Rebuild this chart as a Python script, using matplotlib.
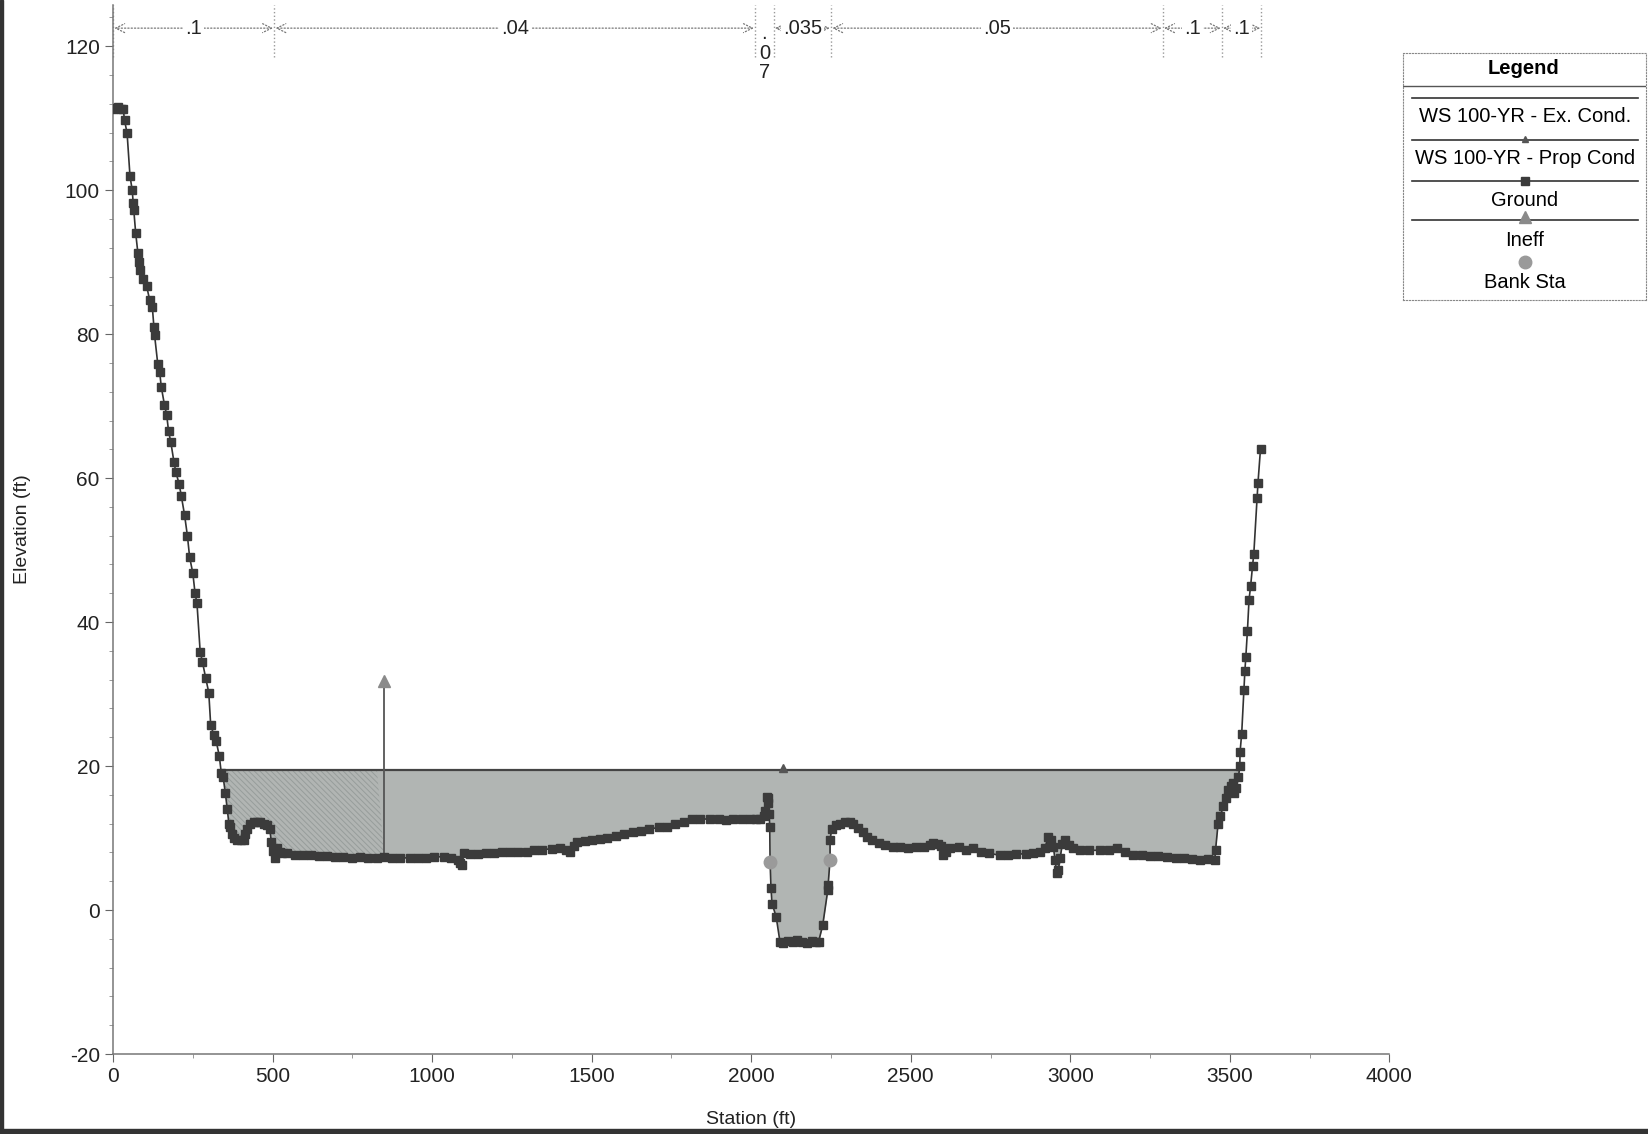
import numpy as np
import matplotlib
matplotlib.use("Agg")
import matplotlib.pyplot as plt
from matplotlib.patches import Rectangle

plt.rcParams['font.family'] = ['Liberation Sans', 'DejaVu Sans']
plt.rcParams['axes.unicode_minus'] = False
plt.rcParams['hatch.linewidth'] = 0.7

# ground profile (station ft, elevation ft)
ground_sta = [0, 8, 16, 24, 32, 36, 44, 53, 60, 63, 65, 71, 78, 82, 86, 95, 105, 115, 123, 128,
              130, 140, 146, 151, 161, 168, 174, 181, 191, 197, 207, 214, 224, 233, 240, 250, 257,
              263, 273, 280, 290, 300, 306, 316, 323, 333, 339, 345, 352, 358, 363, 368, 373, 378,
              390, 400, 410, 415, 420, 430, 441, 452, 462, 472, 482, 491, 496, 502, 509, 514, 522,
              530, 545, 570, 595, 619, 645, 670, 695, 722, 748, 775, 800, 827, 850, 875, 900, 932,
              955, 980, 1005, 1036, 1060, 1080, 1088, 1094, 1099, 1120, 1145, 1170, 1193, 1220,
              1245, 1270, 1297, 1320, 1345, 1375, 1401, 1420, 1433, 1445, 1454, 1480, 1500, 1527,
              1548, 1575, 1600, 1631, 1655, 1680, 1710, 1736, 1760, 1790, 1815, 1840, 1870, 1900,
              1920, 1944, 1970, 1995, 2015, 2028, 2040, 2044, 2049, 2053, 2054, 2056, 2058, 2059,
              2062, 2065, 2078, 2090, 2101, 2115, 2130, 2143, 2158, 2174, 2190, 2202, 2211, 2224,
              2240, 2241, 2247, 2247, 2252, 2265, 2278, 2295, 2310, 2320, 2335, 2350, 2362, 2380,
              2400, 2420, 2445, 2466, 2490, 2515, 2540, 2560, 2571, 2585, 2596, 2602, 2610, 2623,
              2650, 2672, 2696, 2720, 2745, 2779, 2805, 2830, 2860, 2884, 2905, 2920, 2931, 2940,
              2947, 2952, 2957, 2962, 2968, 2975, 2983, 2995, 3009, 3030, 3060, 3093, 3120, 3145,
              3170, 3197, 3225, 3250, 3275, 3302, 3330, 3355, 3380, 3406, 3430, 3453, 3455, 3463,
              3470, 3479, 3487, 3494, 3503, 3510, 3513, 3520, 3527, 3531, 3532, 3537, 3544, 3547,
              3550, 3555, 3560, 3565, 3571, 3575, 3585, 3588, 3596]
ground_el = [111.3, 111.4, 111.5, 111.3, 111.2, 109.7, 107.9, 102.0, 100.0, 98.2, 97.2, 94.0, 91.2,
             90.0, 88.9, 87.7, 86.7, 84.7, 83.8, 81.0, 79.9, 75.9, 74.8, 72.7, 70.2, 68.8, 66.5,
             65.0, 62.2, 60.8, 59.2, 57.5, 54.9, 52.0, 49.0, 46.8, 44.0, 42.6, 35.9, 34.5, 32.3,
             30.2, 25.7, 24.3, 23.5, 21.4, 19.1, 18.5, 16.2, 14.0, 12.0, 11.6, 10.6, 10.0, 9.8,
             9.8, 9.7, 10.5, 11.3, 12.0, 12.3, 12.2, 12.2, 12.0, 11.8, 11.3, 9.5, 8.2, 7.2, 8.6,
             8.1, 7.9, 7.9, 7.7, 7.6, 7.6, 7.5, 7.5, 7.4, 7.4, 7.3, 7.4, 7.3, 7.3, 7.4, 7.2, 7.3,
             7.2, 7.3, 7.2, 7.4, 7.4, 7.3, 7.0, 6.5, 6.3, 7.9, 7.8, 7.8, 7.9, 7.9, 8.0, 8.0, 8.1,
             8.1, 8.3, 8.4, 8.5, 8.6, 8.4, 8.1, 8.9, 9.5, 9.6, 9.8, 9.9, 10.0, 10.3, 10.6, 10.9,
             11.0, 11.2, 11.5, 11.6, 11.9, 12.3, 12.6, 12.7, 12.6, 12.6, 12.5, 12.6, 12.6, 12.7,
             12.6, 12.7, 13.0, 13.7, 15.7, 15.5, 14.9, 13.4, 11.6, 6.7, 3.0, 0.9, -0.9, -4.4, -4.6,
             -4.3, -4.5, -4.2, -4.4, -4.6, -4.3, -4.5, -4.4, -2.1, 2.8, 3.5, 7.0, 9.7, 11.3, 11.8,
             12.0, 12.3, 12.3, 12.0, 11.4, 10.8, 10.2, 9.7, 9.3, 9.1, 8.8, 8.8, 8.6, 8.7, 8.7, 9.0,
             9.3, 9.2, 8.9, 7.6, 8.0, 8.6, 8.8, 8.4, 8.6, 8.1, 7.9, 7.6, 7.7, 7.8, 7.8, 7.9, 8.0,
             8.6, 10.2, 9.8, 8.7, 7.0, 5.1, 5.5, 7.2, 9.2, 9.7, 9.0, 8.6, 8.4, 8.3, 8.3, 8.4, 8.6,
             8.0, 7.6, 7.6, 7.5, 7.5, 7.4, 7.3, 7.2, 7.1, 7.0, 7.1, 7.0, 8.3, 12.0, 13.0, 14.4,
             15.5, 16.7, 17.2, 17.6, 16.2, 17.0, 18.5, 20.0, 22.0, 24.5, 30.6, 33.2, 35.2, 38.8,
             43.1, 45.0, 47.8, 49.5, 57.2, 59.3, 64.1]

# water surface 100-yr
ws_elev = 19.5
ws_sta = [340, 2101, 3530]

# ineffective flow and bank stations
ineff_sta = 849
ineff_bottom = 7.4
ineff_top = 31.8
bank_sta = [2059, 2247]
bank_el = [6.7, 7.0]

# Manning's n
n_sta = [0, 505, 2012, 2070, 2250, 3290, 3475, 3599]
n_vals = ['.1', '.04', '.07', '.035', '.05', '.1', '.1']

st = np.array(ground_sta, dtype=float)
el = np.array(ground_el, dtype=float)

fig = plt.figure(figsize=(16.48, 11.34), dpi=100)
ax = fig.add_axes([0.0686, 0.0705, 0.7745, 0.925])

# flow area
wet = el < ws_elev
ax.fill_between(st, np.minimum(el, ws_elev), ws_elev, where=wet, interpolate=True,
                color='#b1b5b3', lw=0, zorder=1)
ax.fill_between(st, np.minimum(el, ws_elev), ws_elev, where=wet & (st <= ineff_sta),
                interpolate=True, facecolor='none', edgecolor='#979d9b', hatch='\\\\\\\\\\\\',
                lw=0, zorder=1.5)

# water surface lines
ax.plot([ws_sta[0], ws_sta[-1]], [ws_elev, ws_elev], color='#444444', lw=1.6, zorder=3)
ax.plot(ws_sta[1], ws_elev + 0.3, marker='^', ms=6, color='#555555', zorder=4)

# ineffective flow marker
ax.plot([ineff_sta, ineff_sta], [ineff_bottom, ineff_top], color='#555555', lw=1.3, zorder=3)
ax.plot(ineff_sta, ineff_top, marker='^', ms=9, color='#8a8a8a', zorder=4)

# ground
ax.plot(st, el, color='#333333', lw=1.2, marker='s', ms=6.2, mfc='#3b3b3b', mec='#3b3b3b',
        zorder=5)

# bank stations
ax.plot(bank_sta, bank_el, 'o', ms=9, color='#9a9a9a', zorder=6)

# Manning's n annotation
ny = 122.5
for s in n_sta:
    ax.plot([s, s], [118.5, 125.7], color='#999999', lw=1, ls=':', zorder=2, clip_on=False)
for i, lab in enumerate(n_vals):
    a, b = n_sta[i], n_sta[i + 1]
    if b - a < 100:
        ax.text((a + b) / 2, 123.1, '.\n0\n7', ha='center', va='top', fontsize=14.5,
                linespacing=1.05, color='#222222')
        continue
    ax.annotate('', xy=(a + 4, ny), xytext=(b - 4, ny),
                arrowprops=dict(arrowstyle='<->', color='#777777', lw=0.9, ls=':',
                                shrinkA=0, shrinkB=0, mutation_scale=16))
    ax.text((a + b) / 2, ny, lab, ha='center', va='center', fontsize=14.5, color='#222222',
            bbox=dict(facecolor='white', edgecolor='none', pad=1.5))

ax.set_xlim(0, 4000)
ax.set_ylim(-20, 125.7)
ax.set_xticks(np.arange(0, 4001, 500))
ax.set_xticks(np.arange(0, 4001, 250), minor=True)
ax.set_yticks(np.arange(-20, 121, 20))
ax.set_yticks(np.arange(-20, 125, 4), minor=True)
for side in ['top', 'right']:
    ax.spines[side].set_visible(False)
for side in ['left', 'bottom']:
    ax.spines[side].set_color('#777777')
    ax.spines[side].set_linewidth(1.1)
ax.tick_params(which='major', length=6, color='#666666', labelsize=15, labelcolor='#222222')
ax.tick_params(which='minor', length=3, color='#888888')
ax.set_xlabel('Station (ft)', fontsize=14, color='#222222', labelpad=18)
ax.set_ylabel('Elevation (ft)', fontsize=14, color='#222222', labelpad=24)

# legend box
lg = fig.add_axes([1403 / 1648, 1 - 300 / 1134, 243 / 1648, 247 / 1134])
lg.set_xlim(1403, 1646)
lg.set_ylim(300, 53)
lg.set_xticks([])
lg.set_yticks([])
for sp in lg.spines.values():
    sp.set_color('#888888')
    sp.set_linestyle(':')
lg.plot([1403, 1646], [86, 86], color='#555555', lw=1)
lg.text(1524, 68, 'Legend', ha='center', va='center', fontsize=14.5, fontweight='bold')
x0, x1, xm = 1412, 1638, 1525
lg.plot([x0, x1], [98, 98], color='#333333', lw=1.2)
lg.text(xm, 117, 'WS 100-YR - Ex. Cond.', ha='center', va='center', fontsize=14.5)
lg.plot([x0, x1], [140, 140], color='#333333', lw=1.2)
lg.plot(xm, 139, marker='^', ms=5, color='#555555')
lg.text(xm, 159, 'WS 100-YR - Prop Cond', ha='center', va='center', fontsize=14.5)
lg.plot([x0, x1], [181, 181], color='#333333', lw=1.2)
lg.plot(xm, 181, marker='s', ms=5.5, color='#3b3b3b')
lg.text(xm, 200, 'Ground', ha='center', va='center', fontsize=14.5)
lg.plot([x0, x1], [220, 220], color='#333333', lw=1.2)
lg.plot(xm, 217, marker='^', ms=9, color='#8a8a8a')
lg.text(xm, 241, 'Ineff', ha='center', va='center', fontsize=14.5)
lg.plot(xm, 262, marker='o', ms=9, color='#9a9a9a')
lg.text(xm, 283, 'Bank Sta', ha='center', va='center', fontsize=14.5)

# scan edges
fig.patches.append(Rectangle((0, 0), 0.002, 1, transform=fig.transFigure, color='#333333'))
fig.patches.append(Rectangle((0, 0), 1, 0.004, transform=fig.transFigure, color='#333333'))

fig.savefig('out.png', dpi=100)
